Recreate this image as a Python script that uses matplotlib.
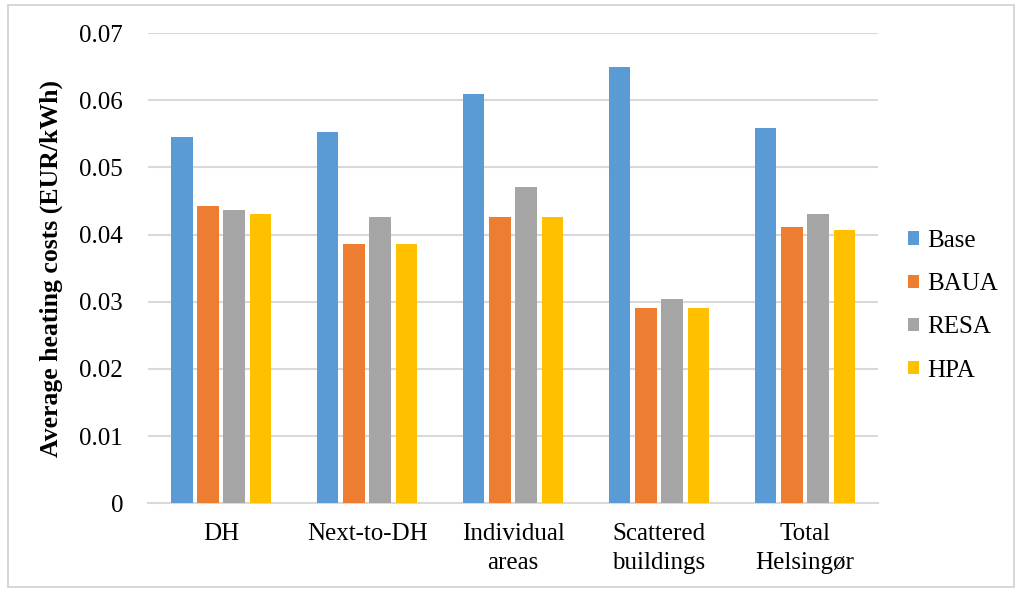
import matplotlib
matplotlib.use("Agg")
import matplotlib.pyplot as plt
import numpy as np
from matplotlib.patches import Rectangle

categories = ["DH", "Next-to-DH", "Individual\nareas", "Scattered\nbuildings", "Total\nHelsingør"]
series = ["Base", "BAUA", "RESA", "HPA"]
base = [0.0545, 0.0553, 0.0609, 0.0649, 0.0559]
baua = [0.0443, 0.0386, 0.0426, 0.0290, 0.0412]
resa = [0.0436, 0.0426, 0.0471, 0.0304, 0.0430]
hpa = [0.0431, 0.0386, 0.0426, 0.0290, 0.0407]
colors = ["#5B9BD5", "#ED7D31", "#A5A5A5", "#FFC000"]
yticks = [0, 0.01, 0.02, 0.03, 0.04, 0.05, 0.06, 0.07]
ytick_labels = ["0", "0.01", "0.02", "0.03", "0.04", "0.05", "0.06", "0.07"]

plt.rcParams["font.family"] = ["Liberation Serif", "DejaVu Serif"]

fig = plt.figure(figsize=(10.22, 5.92), dpi=100)
ax = fig.add_axes([0.145, 0.150, 0.714, 0.794])

x = np.arange(len(categories))
pitch, w = 0.18, 0.148
for i, (name, vals) in enumerate(zip(series, [base, baua, resa, hpa])):
    ax.bar(x + (i - 1.5) * pitch, vals, width=w, color=colors[i], label=name, zorder=3)

ax.set_xlim(-0.5, len(categories) - 0.5)
ax.set_ylim(0, 0.07)
ax.set_yticks(yticks)
ax.set_yticklabels(ytick_labels, fontsize=18)
ax.set_xticks(x)
ax.set_xticklabels(categories, fontsize=18, linespacing=1.45)
ax.tick_params(length=0)
ax.tick_params(axis="x", pad=14)
ax.tick_params(axis="y", pad=18)
ax.grid(axis="y", color="#d9d9d9", linewidth=1.5, zorder=0)
for s in ["top", "right", "left"]:
    ax.spines[s].set_visible(False)
ax.spines["bottom"].set_color("#d9d9d9")
ax.spines["bottom"].set_linewidth(1.5)
ax.set_ylabel("Average heating costs (EUR/kWh)", fontsize=18.5, fontweight="bold", labelpad=12)

ax.legend(loc="center left", bbox_to_anchor=(1.01, 0.42), frameon=False, fontsize=18,
          handlelength=0.45, handleheight=0.45, handletextpad=0.35, labelspacing=0.85)

fig.patches.append(Rectangle((0.008, 0.008), 0.984, 0.984, transform=fig.transFigure,
                             fill=False, edgecolor="#d0d0d0", linewidth=1.2))
fig.savefig("out.png", dpi=100)
